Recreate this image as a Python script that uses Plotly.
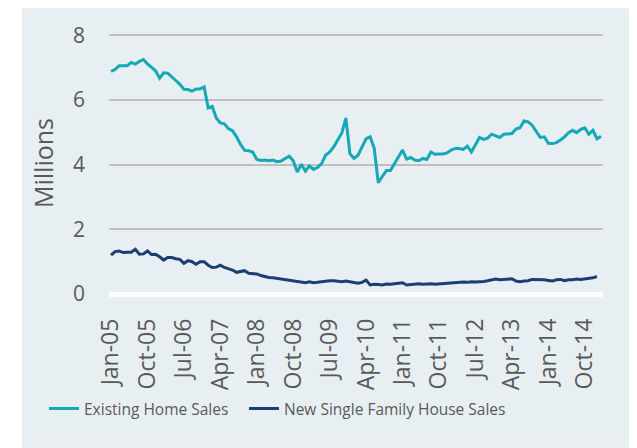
import pandas as pd
import plotly.graph_objects as go

months = pd.date_range("2005-01-01", "2015-02-01", freq="MS").strftime("%b-%y").tolist()

existing_home_sales = [
    6.88, 6.94, 7.06, 7.07, 7.06, 7.16, 7.11, 7.19, 7.25, 7.11,
    7.00, 6.90, 6.67, 6.84, 6.83, 6.70, 6.60, 6.48, 6.33, 6.32,
    6.27, 6.34, 6.34, 6.40, 5.75, 5.80, 5.44, 5.29, 5.26, 5.11,
    5.05, 4.86, 4.62, 4.44, 4.43, 4.39, 4.16, 4.13, 4.14, 4.12,
    4.14, 4.09, 4.11, 4.19, 4.26, 4.12, 3.77, 4.01, 3.80, 3.96,
    3.85, 3.91, 4.03, 4.29, 4.39, 4.55, 4.75, 4.98, 5.44, 4.34,
    4.19, 4.29, 4.55, 4.80, 4.86, 4.50, 3.44, 3.65, 3.82, 3.82,
    4.02, 4.25, 4.45, 4.17, 4.22, 4.14, 4.12, 4.19, 4.16, 4.39,
    4.32, 4.33, 4.33, 4.36, 4.45, 4.50, 4.50, 4.47, 4.57, 4.39,
    4.60, 4.84, 4.78, 4.82, 4.94, 4.88, 4.84, 4.94, 4.95, 4.96,
    5.10, 5.14, 5.35, 5.32, 5.22, 5.04, 4.84, 4.86, 4.66, 4.65,
    4.68, 4.76, 4.86, 4.99, 5.06, 4.99, 5.09, 5.14, 4.94, 5.06,
    4.80, 4.88,
]

new_single_family_sales = [
    1.20, 1.31, 1.33, 1.28, 1.29, 1.29, 1.38, 1.23, 1.24, 1.33,
    1.22, 1.23, 1.15, 1.05, 1.13, 1.13, 1.09, 1.07, 0.95, 1.03,
    1.00, 0.92, 1.00, 1.00, 0.89, 0.82, 0.83, 0.89, 0.82, 0.79,
    0.74, 0.67, 0.70, 0.72, 0.64, 0.62, 0.62, 0.57, 0.53, 0.51,
    0.50, 0.48, 0.47, 0.44, 0.43, 0.40, 0.39, 0.37, 0.35, 0.38,
    0.35, 0.36, 0.38, 0.40, 0.41, 0.41, 0.40, 0.38, 0.40, 0.37,
    0.35, 0.33, 0.36, 0.43, 0.28, 0.30, 0.29, 0.28, 0.31, 0.30,
    0.32, 0.33, 0.35, 0.28, 0.30, 0.31, 0.32, 0.30, 0.31, 0.32,
    0.30, 0.31, 0.33, 0.34, 0.35, 0.36, 0.36, 0.37, 0.36, 0.38,
    0.37, 0.37, 0.39, 0.41, 0.43, 0.46, 0.44, 0.45, 0.45, 0.47,
    0.40, 0.38, 0.40, 0.41, 0.45, 0.45, 0.45, 0.44, 0.42, 0.40,
    0.44, 0.45, 0.41, 0.44, 0.44, 0.46, 0.45, 0.46, 0.47, 0.50,
    0.54,
]

n = len(months)

tick_labels = ["Jan-05", "Oct-05", "Jul-06", "Apr-07", "Jan-08", "Oct-08", "Jul-09",
               "Apr-10", "Jan-11", "Oct-11", "Jul-12", "Apr-13", "Jan-14", "Oct-14"]
y_ticks = [0, 2, 4, 6, 8]

FONT = "Open Sans"
GRAY = "#595959"

fig = go.Figure()
fig.add_trace(go.Scatter(x=months[:len(existing_home_sales)], y=existing_home_sales,
                         mode="lines", name="Existing Home Sales", legend="legend",
                         line=dict(color="#17A8B8", width=3)))
fig.add_trace(go.Scatter(x=months[:len(new_single_family_sales)], y=new_single_family_sales,
                         mode="lines", name="New Single Family House Sales", legend="legend2",
                         line=dict(color="#1B3F73", width=3)))

# page body has an 8px margin: figure coordinates = screen coordinates - 8
OFF = 8
W, H = 637 - OFF, 448 - OFF
YTOP = 8.1
px_per_unit = (294 - 35) / 8.0
L = 109 - OFF
R = W - (603 - OFF)
B = H - (294 - OFF)
T = (294 - px_per_unit * YTOP) - OFF
pw, ph = W - L - R, H - T - B
fig.add_shape(type="rect", xref="paper", yref="paper", layer="below",
              x0=(22 - OFF - L) / pw, x1=(633 - OFF - L) / pw,
              y0=(H - B - H) / ph, y1=(H - B - 0) / ph + 0.0,
              fillcolor="#E7EFF3", line=dict(width=0))

legend_common = dict(orientation="h", yanchor="top", xanchor="left",
                     y=(H - B - (392 - OFF)) / ph,
                     font=dict(size=15.5, color=GRAY, family=FONT),
                     bgcolor="rgba(0,0,0,0)", itemwidth=30)

fig.update_layout(
    width=W, height=H,
    margin=dict(l=L, r=R, t=T, b=B, autoexpand=False),
    paper_bgcolor="white",
    plot_bgcolor="rgba(0,0,0,0)",
    font=dict(family=FONT, color=GRAY),
    showlegend=True,
    legend=dict(x=(44 - OFF - L) / pw, **legend_common),
    legend2=dict(x=(244 - OFF - L) / pw, **legend_common),
)
fig.update_xaxes(type="category", categoryorder="array", categoryarray=months,
                 range=[-0.5, n - 0.5], tickmode="array", tickvals=tick_labels,
                 ticktext=tick_labels, tickangle=-90, showgrid=False, automargin=False,
                 tickfont=dict(size=23, color=GRAY, family=FONT),
                 ticks="", ticklabelstandoff=19, showline=False, zeroline=False)
fig.update_yaxes(range=[0, YTOP], tickvals=y_ticks, showgrid=True, gridcolor="#BFBFBF",
                 gridwidth=1.5, zeroline=True, zerolinecolor="white", zerolinewidth=5,
                 tickfont=dict(size=21, color=GRAY, family=FONT), automargin=False,
                 ticks="", ticklabelstandoff=23,
                 title=dict(text="Millions", font=dict(size=25, color=GRAY, family=FONT),
                            standoff=12))

fig.write_html("out.html")
